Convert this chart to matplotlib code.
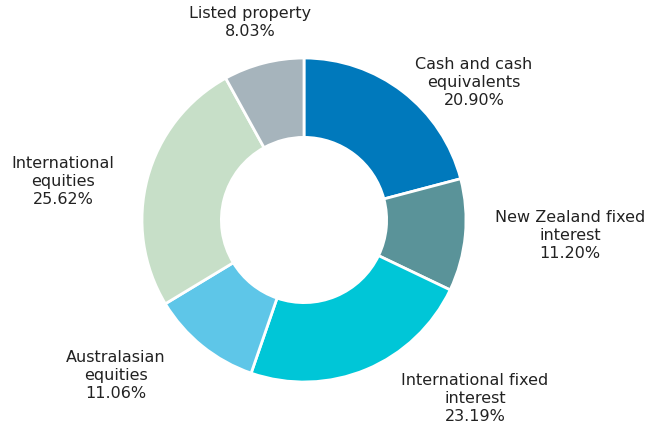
import matplotlib
matplotlib.use("Agg")
import matplotlib.pyplot as plt

labels = ["Cash and cash\nequivalents", "New Zealand fixed\ninterest",
          "International fixed\ninterest", "Australasian\nequities",
          "International\nequities", "Listed property"]
values = [20.90, 11.20, 23.19, 11.06, 25.62, 8.03]
colors = ["#0079BC", "#5A9399", "#00C6D7", "#5EC6E8", "#C7DFC8", "#A6B4BC"]
# label centres, in units of the outer radius
label_pos = [(1.049, 0.846), (1.642, -0.093), (1.056, -1.099),
             (-1.160, -0.957), (-1.488, 0.235), (-0.333, 1.222)]

W, H = 646, 429
cx, cy, R = 304, 220, 162

fig = plt.figure(figsize=(W / 100, H / 100), dpi=100)
ax = fig.add_axes([0, 0, 1, 1])
ax.pie(values, colors=colors, startangle=90, counterclock=False, radius=1,
       wedgeprops=dict(width=0.49, edgecolor="white", linewidth=2))
ax.set_xlim(-cx / R, (W - cx) / R)
ax.set_ylim(-(H - cy) / R, cy / R)
ax.set_aspect("equal")
ax.axis("off")

for lab, v, (x, y) in zip(labels, values, label_pos):
    ax.text(x, y, f"{lab}\n{v:.2f}%", ha="center", va="center",
            fontsize=11.5, color="#222222", linespacing=1.25,
            family="DejaVu Sans")

fig.savefig("out.png", dpi=100)
